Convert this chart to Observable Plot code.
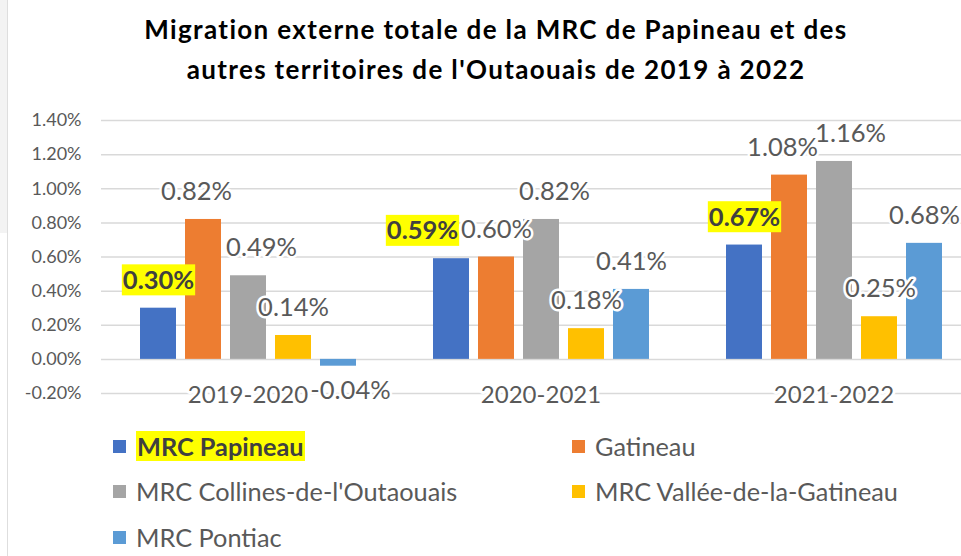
<!DOCTYPE html>
<html>
<head>
<meta charset="utf-8">
<script src="https://cdn.jsdelivr.net/npm/d3@7"></script>
<script src="https://cdn.jsdelivr.net/npm/@observablehq/plot@0.6"></script>
<style>
  html, body { margin: 0; padding: 0; background: #fff; }
  #wrap { position: relative; width: 961px; height: 556px; overflow: hidden; font-family: Lato, "Noto Sans", sans-serif; background: #fff; }
  #strip { position: absolute; left: 0; top: 0; width: 7px; height: 233px; background: #f3f3f3; }
  #edge { position: absolute; left: 7px; top: 0; width: 1px; height: 556px; background: #dedede; }
  .tline { position: absolute; left: 0; width: 992px; text-align: center; font-weight: bold; font-size: 26px; letter-spacing: 1.35px; line-height: 1.2; color: #000; white-space: nowrap; }
  #chart { position: absolute; left: 0; top: 100px; width: 981px; }
  #chart svg { max-width: none !important; }
  .lg { position: absolute; height: 34px; display: flex; align-items: center; font-size: 25.3px; color: #595959; white-space: nowrap; }
  .lg .sw { width: 13px; height: 13px; margin-right: 10px; flex: none; }
  .lg .hl { background: #ffff00; font-weight: bold; color: #404040; padding: 0 1px; }
</style>
</head>
<body>
<div id="wrap">
  <div id="strip"></div>
  <div id="edge"></div>
  <div class="tline" id="t1" style="top:14px">Migration externe totale de la MRC de Papineau et des</div>
  <div class="tline" id="t2" style="top:54px">autres territoires de l'Outaouais de 2019 à 2022</div>
  <div id="chart"></div>
  <div id="legend"></div>
</div>
<script>
// ---- data ----
const periods = ["2019-2020", "2020-2021", "2021-2022"];
const series = ["MRC Papineau", "Gatineau", "MRC Collines-de-l'Outaouais", "MRC Vallée-de-la-Gatineau", "MRC Pontiac"];
const papineau = [0.30, 0.59, 0.67];
const gatineau = [0.82, 0.60, 1.08];
const collines = [0.49, 0.82, 1.16];
const vallee   = [0.14, 0.18, 0.25];
const pontiac  = [-0.04, 0.41, 0.68];
const yTicks = [-0.2, 0, 0.2, 0.4, 0.6, 0.8, 1.0, 1.2, 1.4];
const colors = ["#4472C4", "#ED7D31", "#A5A5A5", "#FFC000", "#5B9BD5"];
// manual label nudges (as in the original chart), per series per period
const labelDx = [[0, -29, 0], [-7, 0, -7], [13, 13, 16], [0, 0, 1], [12, 0, 0]];

const values = [papineau, gatineau, collines, vallee, pontiac];
const data = [];
periods.forEach((p, i) => series.forEach((s, j) => data.push({ period: p, series: s, value: values[j][i], dx: labelDx[j][i] })));
const fmt = v => v.toFixed(2) + "%";

const labelMarks = data.map(d => {
  const hl = d.series === series[0];
  return Plot.text([d], {
    fx: "period", x: "series", y: "value",
    text: r => fmt(r.value),
    dx: d.dx, dy: d.value >= 0 ? -27.5 : 25,
    lineAnchor: "middle",
    fontSize: 25.5,
    fontWeight: hl ? "bold" : "normal",
    fill: hl ? "#404040" : "#595959",
    stroke: hl ? null : "white", strokeWidth: 5,
    ariaLabel: () => (hl ? "hl-label" : "data-label")
  });
});

const plot = Plot.plot({
  width: 981, height: 320,
  marginLeft: 100, marginRight: 0, marginTop: 20, marginBottom: 27,
  style: { fontFamily: "Lato, 'Noto Sans', sans-serif", background: "transparent", maxWidth: "none" },
  fx: { domain: periods, padding: 0, axis: null },
  x: { domain: series, paddingInner: 0.21, paddingOuter: 0.853, axis: null },
  y: { domain: [-0.2, 1.4], axis: null },
  color: { domain: series, range: colors },
  marks: [
    Plot.gridY(yTicks, { stroke: "#d9d9d9", strokeOpacity: 1, strokeWidth: 1.5 }),
    Plot.axisY({ ticks: yTicks, tickFormat: fmt, tickSize: 0, tickPadding: 20, fontSize: 18, fill: "#595959", label: null }),
    Plot.barY(data, { fx: "period", x: "series", y: "value", fill: "series" }),
    Plot.text(periods, { fx: d => d, text: d => d, frameAnchor: "bottom", dy: 2, lineAnchor: "middle", fontSize: 24, fill: "#595959", stroke: "white", strokeWidth: 6 }),
    ...labelMarks
  ]
});
plot.style.maxWidth = "none";
document.getElementById("chart").appendChild(plot);

// yellow highlight behind the Papineau labels
const hlTexts = new Set();
plot.querySelectorAll('text[aria-label="hl-label"]').forEach(t => hlTexts.add(t));
plot.querySelectorAll('g[font-weight="bold"] text').forEach(t => hlTexts.add(t));
hlTexts.forEach(t => {
  const b = t.getBBox();
  const r = document.createElementNS("http://www.w3.org/2000/svg", "rect");
  r.setAttribute("x", b.x - 1);
  r.setAttribute("y", b.y + 0.5);
  r.setAttribute("width", b.width + 2);
  r.setAttribute("height", b.height + 1);
  r.setAttribute("fill", "#ffff00");
  if (t.getAttribute("transform")) r.setAttribute("transform", t.getAttribute("transform"));
  t.parentNode.insertBefore(r, t);
});

// legend
const legendPos = [[113, 446], [572, 446], [113, 491], [572, 491], [113, 537]];
const lg = document.getElementById("legend");
series.forEach((s, i) => {
  const item = document.createElement("div");
  item.className = "lg";
  item.style.left = legendPos[i][0] + "px";
  item.style.top = (legendPos[i][1] - 17) + "px";
  const sw = document.createElement("span");
  sw.className = "sw";
  sw.style.background = colors[i];
  const tx = document.createElement("span");
  tx.textContent = s;
  if (i === 0) tx.className = "hl";
  item.appendChild(sw);
  item.appendChild(tx);
  lg.appendChild(item);
});
</script>
</body>
</html>
